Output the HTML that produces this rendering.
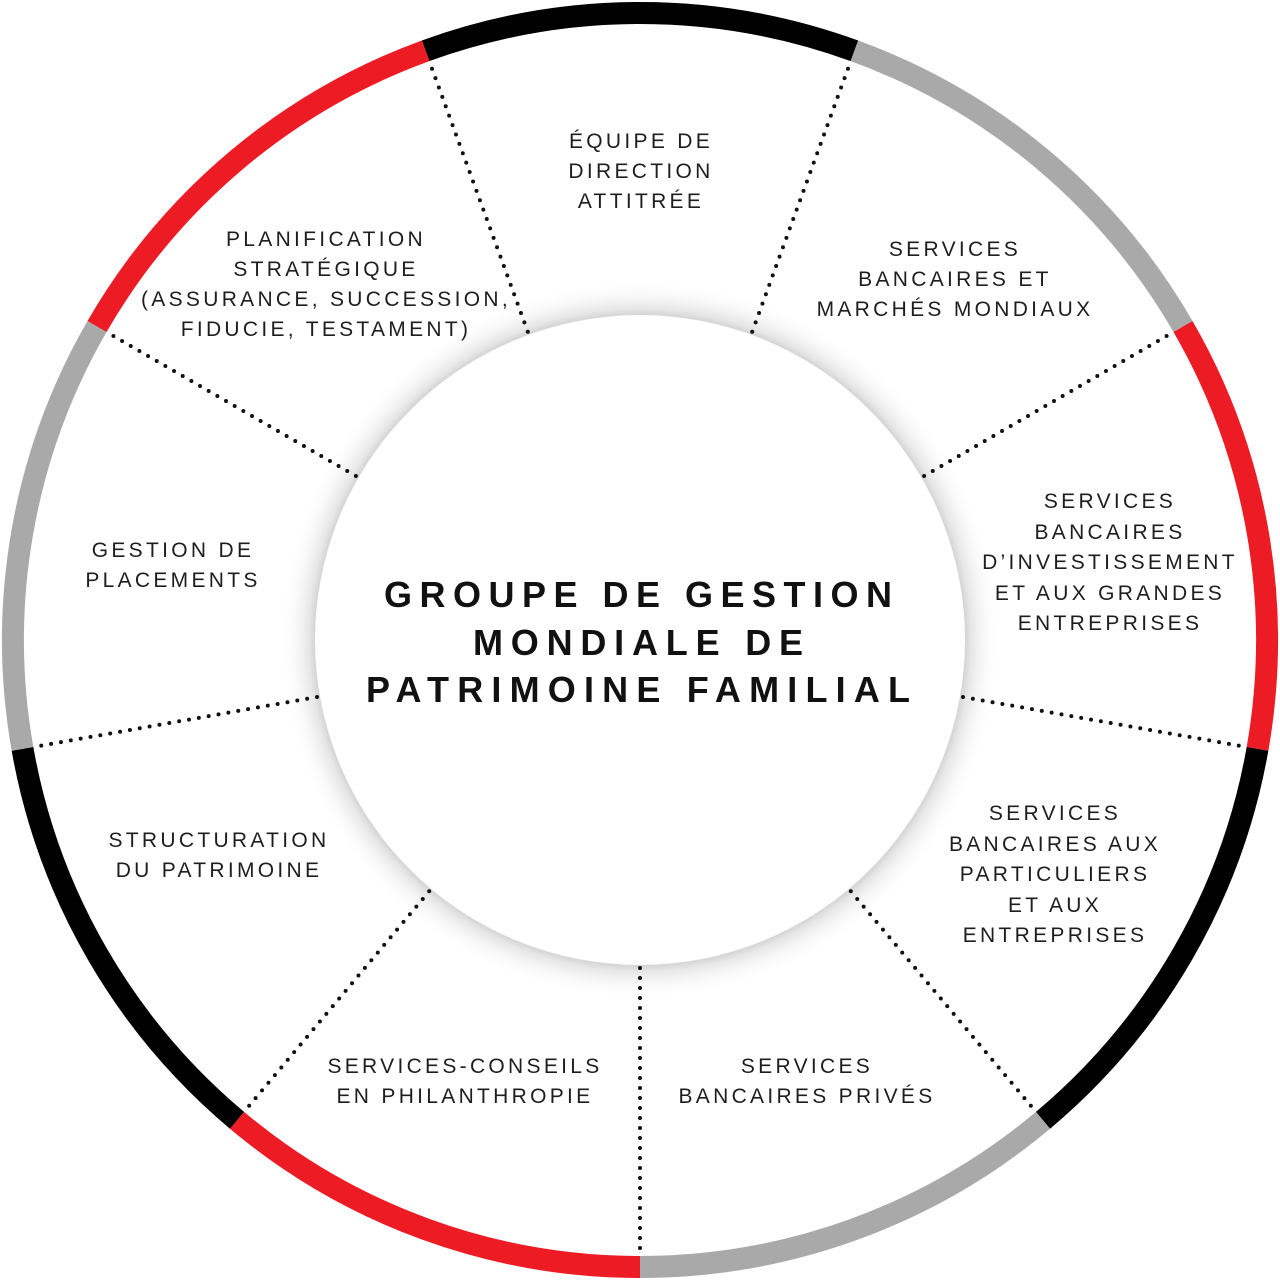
<!DOCTYPE html>
<html><head><meta charset="utf-8"><style>
html,body{margin:0;padding:0;background:#fff;}
svg{display:block;}
.l{font-family:"Liberation Sans",sans-serif;font-size:21px;letter-spacing:3.3px;fill:#1e1e1e;text-anchor:middle;}
.t{font-family:"Liberation Sans",sans-serif;font-size:36px;font-weight:bold;letter-spacing:6px;fill:#111;text-anchor:middle;}
</style></head><body>
<svg width="1280" height="1280" viewBox="0 0 1280 1280" xmlns="http://www.w3.org/2000/svg">
<defs>
<radialGradient id="sh" cx="640" cy="640" r="360" gradientUnits="userSpaceOnUse">
<stop offset="0.88" stop-color="#bdbdbd"/>
<stop offset="0.92" stop-color="#e6e6e6"/>
<stop offset="1" stop-color="#ffffff" stop-opacity="0"/>
</radialGradient>
</defs>
<rect width="1280" height="1280" fill="#fff"/>
<g fill="none" stroke-width="22">
<path d="M425.6,50.8 A627,627 0 0 1 854.4,50.8" stroke="#000"/>
<path d="M854.4,50.8 A627,627 0 0 1 1183.0,326.5" stroke="#a9a9a9"/>
<path d="M1183.0,326.5 A627,627 0 0 1 1257.5,748.9" stroke="#ed1c24"/>
<path d="M1257.5,748.9 A627,627 0 0 1 1043.0,1120.3" stroke="#000"/>
<path d="M1043.0,1120.3 A627,627 0 0 1 640,1267" stroke="#a9a9a9"/>
<path d="M640,1267 A627,627 0 0 1 237.0,1120.3" stroke="#ed1c24"/>
<path d="M237.0,1120.3 A627,627 0 0 1 22.5,748.9" stroke="#000"/>
<path d="M22.5,748.9 A627,627 0 0 1 97.0,326.5" stroke="#a9a9a9"/>
<path d="M97.0,326.5 A627,627 0 0 1 425.6,50.8" stroke="#ed1c24"/>
</g>
<circle cx="640" cy="640" r="360" fill="url(#sh)"/>
<circle cx="640" cy="640" r="325" fill="#fff"/>
<g stroke="#111" stroke-width="4" stroke-linecap="round" stroke-dasharray="0 10">
<line x1="752.2" y1="331.8" x2="850.7" y2="61.2"/>
<line x1="924.1" y1="476" x2="1173.5" y2="332"/>
<line x1="963.0" y1="697.0" x2="1246.6" y2="747.0"/>
<line x1="850.8" y1="891.3" x2="1036.0" y2="1111.9"/>
<line x1="640" y1="968" x2="640" y2="1256"/>
<line x1="429.2" y1="891.3" x2="244" y2="1111.9"/>
<line x1="317" y1="697" x2="33.4" y2="747"/>
<line x1="355.9" y1="476" x2="106.5" y2="332"/>
<line x1="527.8" y1="331.8" x2="429.3" y2="61.2"/>
</g>
<text class="t" x="641" y="607" textLength="514">GROUPE DE GESTION</text>
<text class="t" x="641" y="655" textLength="336">MONDIALE DE</text>
<text class="t" x="641" y="702" textLength="550">PATRIMOINE FAMILIAL</text>
<g class="l">
<text x="641" y="148">ÉQUIPE DE</text>
<text x="641" y="178">DIRECTION</text>
<text x="641" y="208">ATTITRÉE</text>
<text x="955" y="256">SERVICES</text>
<text x="955" y="286">BANCAIRES ET</text>
<text x="955" y="316">MARCHÉS MONDIAUX</text>
<text x="1110" y="508">SERVICES</text>
<text x="1110" y="539">BANCAIRES</text>
<text x="1110" y="569">D’INVESTISSEMENT</text>
<text x="1110" y="600">ET AUX GRANDES</text>
<text x="1110" y="630">ENTREPRISES</text>
<text x="1055" y="820">SERVICES</text>
<text x="1055" y="851">BANCAIRES AUX</text>
<text x="1055" y="881">PARTICULIERS</text>
<text x="1055" y="912">ET AUX</text>
<text x="1055" y="942">ENTREPRISES</text>
<text x="807" y="1073">SERVICES</text>
<text x="807" y="1103">BANCAIRES PRIVÉS</text>
<text x="465" y="1073">SERVICES-CONSEILS</text>
<text x="465" y="1103">EN PHILANTHROPIE</text>
<text x="219" y="847">STRUCTURATION</text>
<text x="219" y="877">DU PATRIMOINE</text>
<text x="173" y="557">GESTION DE</text>
<text x="173" y="587">PLACEMENTS</text>
<text x="326" y="246">PLANIFICATION</text>
<text x="326" y="276">STRATÉGIQUE</text>
<text x="326" y="306">(ASSURANCE, SUCCESSION,</text>
<text x="326" y="336">FIDUCIE, TESTAMENT)</text>
</g>
</svg>
</body></html>
